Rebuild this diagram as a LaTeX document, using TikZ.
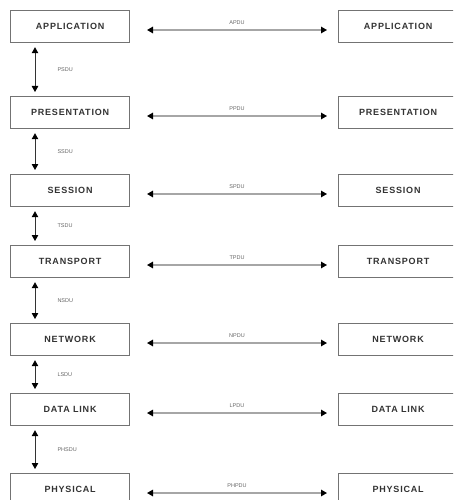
\documentclass[tikz,border=0pt]{standalone}
\usepackage{fontspec}
\setmainfont{Liberation Sans}
\newfontfamily\layerfont[LetterSpace=9]{Liberation Sans}
\usetikzlibrary{arrows.meta}
\begin{document}
\begin{tikzpicture}[x=1pt,y=-1pt,
  layer/.style={draw=black!55,line width=1.2pt,fill=white,minimum width=119pt,minimum height=32pt,
    inner sep=0pt,font=\layerfont\fontsize{9}{10}\selectfont\bfseries,text=black!80,anchor=north west},
  tip/.style={Triangle[length=6pt,width=6.5pt,color=black,fill=black]},
  peer/.style={draw=black!35,line width=1.3pt,{Triangle[length=6pt,width=6.5pt,color=black,fill=black]}-{Triangle[length=6pt,width=6.5pt,color=black,fill=black]}},
  down/.style={draw=black!80,line width=1pt,{Triangle[length=6pt,width=6.5pt,color=black,fill=black]}-{Triangle[length=6pt,width=6.5pt,color=black,fill=black]}},
  pdu/.style={font=\fontsize{5.5}{6}\selectfont,text=black!60,inner sep=1pt}]
\useasboundingbox (0,0) rectangle (453,500);
\clip (0,0) rectangle (453,500);
% layer stacks, both ends
\foreach \n/\t/\y in {app/APPLICATION/10, pre/PRESENTATION/96, ses/SESSION/174, tra/TRANSPORT/245,
                      net/NETWORK/323, dl/DATA LINK/393, phy/PHYSICAL/473}{
  \node[layer] (L\n) at (10,\y) {\t};
  \node[layer] (R\n) at (338,\y) {\t};
  % peer-to-peer protocol data units
  \coordinate (a\n) at (147,\y+20);
  \coordinate (b\n) at (327,\y+20);
}
\foreach \n/\l in {app/APDU, pre/PPDU, ses/SPDU, tra/TPDU, net/NPDU, dl/LPDU, phy/PHPDU}{
  \draw[peer] (a\n) -- node[pdu,above=4pt] {\l} (b\n);
}
% service data units passed down the stack
\foreach \u/\d/\l in {app/pre/PSDU, pre/ses/SSDU, ses/tra/TSDU, tra/net/NSDU, net/dl/LSDU, dl/phy/PHSDU}{
  \draw[down] ([xshift=25pt,yshift=-4pt]L\u.south west) -- node[pdu,right=21pt] {\l} ([xshift=25pt,yshift=4pt]L\d.north west);
}
\end{tikzpicture}
\end{document}
